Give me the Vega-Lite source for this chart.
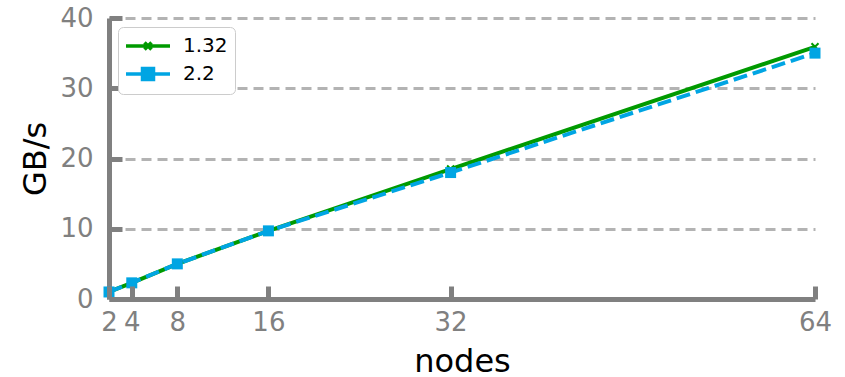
{
  "$schema": "https://vega.github.io/schema/vega-lite/v6.json",
  "width": 706,
  "height": 281,
  "autosize": "none",
  "padding": {"left": 109, "top": 18, "right": 30, "bottom": 78},
  "background": "white",
  "config": {
    "font": "DejaVu Sans",
    "view": {"stroke": null}
  },
  "data": {
    "values": [
      {"nodes": 2, "series": "1.32", "gbps": 1.0},
      {"nodes": 4, "series": "1.32", "gbps": 2.3},
      {"nodes": 8, "series": "1.32", "gbps": 5.0},
      {"nodes": 16, "series": "1.32", "gbps": 9.7},
      {"nodes": 32, "series": "1.32", "gbps": 18.5},
      {"nodes": 64, "series": "1.32", "gbps": 35.9},
      {"nodes": 2, "series": "2.2", "gbps": 1.0},
      {"nodes": 4, "series": "2.2", "gbps": 2.3},
      {"nodes": 8, "series": "2.2", "gbps": 5.0},
      {"nodes": 16, "series": "2.2", "gbps": 9.7},
      {"nodes": 32, "series": "2.2", "gbps": 18.0},
      {"nodes": 64, "series": "2.2", "gbps": 35.0}
    ]
  },
  "encoding": {
    "x": {
      "field": "nodes",
      "type": "quantitative",
      "scale": {"domain": [2, 64], "nice": false, "zero": false},
      "axis": {
        "values": [2, 4, 8, 16, 32, 64],
        "grid": false,
        "zindex": 1,
        "domainColor": "#808080",
        "domainWidth": 5,
        "tickColor": "#808080",
        "tickWidth": 5,
        "tickSize": -13,
        "labelFontSize": 26,
        "labelColor": "#808080",
        "labelPadding": 23,
        "labelFlush": false,
        "title": "nodes",
        "titleFontSize": 32,
        "titleFontWeight": "normal",
        "titleColor": "black",
        "titlePadding": 11
      }
    },
    "y": {
      "field": "gbps",
      "type": "quantitative",
      "scale": {"domain": [0, 40], "nice": false},
      "axis": {
        "values": [0, 10, 20, 30, 40],
        "grid": true,
        "gridColor": "#b3b3b3",
        "gridWidth": 3,
        "gridDash": [10, 6],
        "gridOpacity": {"condition": {"test": "datum.value == 0", "value": 0}, "value": 1},
        "domainColor": "#808080",
        "domainWidth": 5,
        "tickColor": "#808080",
        "tickWidth": 5,
        "tickSize": -13,
        "labelFontSize": 26,
        "labelColor": "#808080",
        "labelPadding": 29,
        "labelFlush": false,
        "title": "GB/s",
        "titleFontSize": 32,
        "titleFontWeight": "normal",
        "titleColor": "black",
        "titlePadding": 7
      }
    }
  },
  "layer": [
    {
      "mark": {"type": "point", "filled": true, "size": 1, "strokeWidth": 3.5},
      "encoding": {
        "color": {
          "field": "series",
          "type": "nominal",
          "scale": {"domain": ["1.32", "2.2"], "range": ["#009a00", "#00a5e3"]},
          "legend": {
            "title": null,
            "orient": "top-left",
            "offset": 9,
            "fillColor": "white",
            "strokeColor": "#cccccc",
            "cornerRadius": 5,
            "padding": 7,
            "labelFontSize": 20,
            "labelColor": "black",
            "symbolSize": 400,
            "symbolStrokeWidth": 3.5,
            "symbolOpacity": 1,
            "labelOffset": 34,
            "rowPadding": 4
          }
        },
        "stroke": {
          "field": "series",
          "type": "nominal",
          "scale": {"domain": ["1.32", "2.2"], "range": ["#009a00", "#00a5e3"]},
          "legend": {
            "title": null,
            "orient": "top-left",
            "offset": 9,
            "fillColor": "white",
            "strokeColor": "#cccccc",
            "cornerRadius": 5,
            "padding": 7,
            "labelFontSize": 20,
            "labelColor": "black",
            "symbolSize": 400,
            "symbolStrokeWidth": 3.5,
            "symbolOpacity": 1,
            "labelOffset": 34,
            "rowPadding": 4
          }
        },
        "shape": {
          "field": "series",
          "type": "nominal",
          "scale": {
            "domain": ["1.32", "2.2"],
            "range": [
              "M-1.1,0H3.3M0.75,-0.35L1.45,0.35M0.75,0.35L1.45,-0.35",
              "M-1.1,0H3.3M0.55,-0.55H1.65V0.55H0.55Z"
            ]
          },
          "legend": {
            "title": null,
            "orient": "top-left",
            "offset": 9,
            "fillColor": "white",
            "strokeColor": "#cccccc",
            "cornerRadius": 5,
            "padding": 7,
            "labelFontSize": 20,
            "labelColor": "black",
            "symbolSize": 400,
            "symbolStrokeWidth": 3.5,
            "symbolOpacity": 1,
            "labelOffset": 34,
            "rowPadding": 4
          }
        }
      }
    },
    {
      "transform": [{"filter": "datum.series == '1.32'"}],
      "mark": {"type": "line", "strokeWidth": 4, "stroke": "#009a00"},
      "encoding": {}
    },
    {
      "transform": [{"filter": "datum.series == '2.2'"}],
      "mark": {"type": "line", "strokeWidth": 4, "stroke": "#00a5e3", "strokeDash": [14, 6]},
      "encoding": {}
    },
    {
      "transform": [{"filter": "datum.series == '1.32'"}],
      "mark": {"type": "point", "shape": "M-1,-1L1,1M-1,1L1,-1", "size": 49, "stroke": "#009a00", "strokeWidth": 2, "filled": false, "opacity": 1},
      "encoding": {}
    },
    {
      "transform": [{"filter": "datum.series == '2.2'"}],
      "mark": {"type": "point", "shape": "square", "size": 121, "fill": "#00a5e3", "filled": true, "opacity": 1},
      "encoding": {}
    }
  ]
}
